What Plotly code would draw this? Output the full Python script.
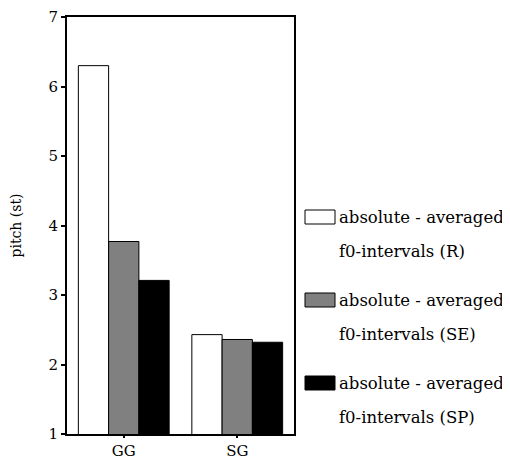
import plotly.graph_objects as go

categories = ["GG", "SG"]
series_names = ["absolute - averaged f0-intervals (R)",
                "absolute - averaged f0-intervals (SE)",
                "absolute - averaged f0-intervals (SP)"]
legend_line1 = ["absolute - averaged"] * 3
legend_line2 = ["f0-intervals (R)", "f0-intervals (SE)", "f0-intervals (SP)"]
values_R = [6.30, 2.43]
values_SE = [3.77, 2.36]
values_SP = [3.21, 2.32]
colors = ["#ffffff", "#808080", "#000000"]
y_ticks = [1, 2, 3, 4, 5, 6, 7]

# page has an 8px body margin; work in page pixels and subtract it
OFF = 8
W, H = 510 - OFF, 457 - OFF
L, R, T, B = 67 - OFF, 294 - OFF, 17 - OFF, 434 - OFF
FONT = "DejaVu Serif"

def px(x):
    return (x - OFF - L) / (R - L)

def py(y):
    return (B - (y - OFF)) / (B - T)

fig = go.Figure()
for name, vals, col in zip(series_names, [values_R, values_SE, values_SP], colors):
    fig.add_trace(go.Bar(x=categories, y=vals, name=name, marker_color=col,
                         marker_line_color="#000000", marker_line_width=1,
                         showlegend=False))

shapes = []
annotations = []
entry_cy = [217, 300, 383]
for i, cy in enumerate(entry_cy):
    shapes.append(dict(type="rect", xref="paper", yref="paper",
                       x0=px(305), x1=px(335), y0=py(cy - 7), y1=py(cy + 7),
                       fillcolor=colors[i], line=dict(color="#000000", width=1)))
    annotations.append(dict(xref="paper", yref="paper", x=px(337), y=py(cy),
                            xanchor="left", yanchor="middle", showarrow=False,
                            text=legend_line1[i], font=dict(family=FONT, size=16.5, color="#000")))
    annotations.append(dict(xref="paper", yref="paper", x=px(337), y=py(cy + 34),
                            xanchor="left", yanchor="middle", showarrow=False,
                            text=legend_line2[i], font=dict(family=FONT, size=16.5, color="#000")))

fig.update_layout(
    width=W, height=H,
    margin=dict(l=L, r=W - R, t=T, b=H - B, autoexpand=False),
    paper_bgcolor="white", plot_bgcolor="white",
    barmode="group", bargap=0.2, bargroupgap=0,
    font=dict(family=FONT, color="#000"),
    shapes=shapes, annotations=annotations,
    xaxis=dict(range=[-0.5, 1.5], showline=True, linecolor="#000", linewidth=2,
               mirror=True, ticks="outside", ticklen=2, tickwidth=2, tickcolor="#000",
               tickfont=dict(family=FONT, size=15), showgrid=False, zeroline=False,
               automargin=False),
    yaxis=dict(range=[1, 7], tickvals=y_ticks, showline=True, linecolor="#000",
               linewidth=2, mirror=True, ticks="outside", ticklen=4, tickwidth=2,
               tickcolor="#000", tickfont=dict(family=FONT, size=15), showgrid=False,
               zeroline=False, automargin=False,
               title=dict(text="pitch (st)", font=dict(family=FONT, size=14), standoff=24)),
)

fig.write_html("out.html")
